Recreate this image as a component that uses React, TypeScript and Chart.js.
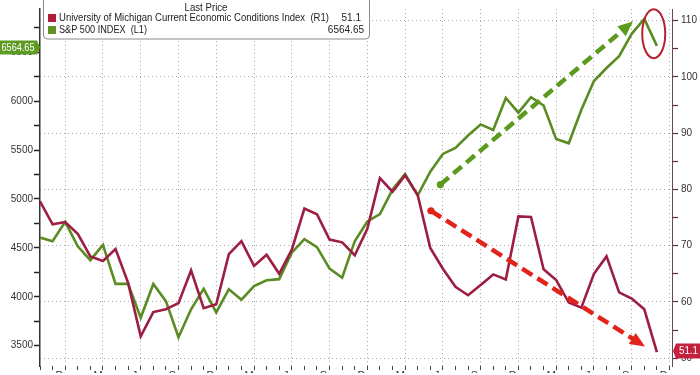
import React, { useEffect, useRef } from 'react';
import { Chart, registerables } from 'chart.js';

Chart.register(...registerables);

// Monthly categories, Oct 2021 .. Dec 2025
const MONTHS = [
  'Oct', 'Nov', 'Dec',
  'Jan', 'Feb', 'Mar', 'Apr', 'May', 'Jun', 'Jul', 'Aug', 'Sep', 'Oct', 'Nov', 'Dec',
  'Jan', 'Feb', 'Mar', 'Apr', 'May', 'Jun', 'Jul', 'Aug', 'Sep', 'Oct', 'Nov', 'Dec',
  'Jan', 'Feb', 'Mar', 'Apr', 'May', 'Jun', 'Jul', 'Aug', 'Sep', 'Oct', 'Nov', 'Dec',
  'Jan', 'Feb', 'Mar', 'Apr', 'May', 'Jun', 'Jul', 'Aug', 'Sep', 'Oct', 'Nov', 'Dec',
];

// University of Michigan Current Economic Conditions Index (right axis)
const UMICH = [
  77.9, 73.8, 74.2,
  72.1, 68.1, 67.3, 69.4, 63.4, 53.9, 58.2, 58.7, 59.8, 65.6, 58.9, 59.6,
  68.5, 70.8, 66.4, 68.4, 65.0, 69.3, 76.6, 75.6, 71.1, 70.6, 68.3, 73.0,
  82.0, 79.6, 82.5, 79.0, 69.6, 65.9, 62.7, 61.2, 63.0, 64.9, 64.0, 75.2,
  75.1, 65.8, 63.9, 59.9, 59.0, 65.0, 68.1, 61.7, 60.6, 58.7, 51.1,
];

// S&P 500 Index (left axis)
const SPX = [
  4605, 4567, 4766,
  4516, 4374, 4530, 4132, 4132, 3785, 4130, 3955, 3586, 3872, 4080, 3840,
  4077, 3970, 4109, 4169, 4180, 4450, 4589, 4508, 4288, 4194, 4568, 4770,
  4846, 5096, 5254, 5036, 5278, 5460, 5522, 5648, 5762, 5705, 6032, 5882,
  6041, 5955, 5612, 5569, 5912, 6205, 6339, 6460, 6688, 6840, 6564.65,
];

const LEFT_TICKS = [3500, 3750, 4000, 4250, 4500, 4750, 5000, 5250, 5500, 5750, 6000, 6250, 6500, 6750];
const RIGHT_TICKS = [50, 55, 60, 65, 70, 75, 80, 85, 90, 95, 100, 105, 110];

const UMICH_LABEL = 'University of Michigan Current Economic Conditions Index  (R1)';
const SPX_LABEL = 'S&P 500 INDEX  (L1)';
const UMICH_LAST = '51.1';
const SPX_LAST = '6564.65';

// Annotation arrows in data units: [month index, axis value]
const GREEN_ARROW = { from: [31.8, 5147], to: [47.1, 6813] };
const RED_ARROW = { from: [31.05, 76.2], to: [48.05, 52.1] };
const ELLIPSE_CENTER = [48.75, 6690];

const FONT = '"Liberation Sans", Arial, sans-serif';
const RED = '#9c1e42';
const GREEN = '#5a8c23';
const GRID = '#a8a8a8';
const CLEAR = 'rgba(0,0,0,0)';

function drawArrow(ctx: CanvasRenderingContext2D, x0: number, y0: number, x1: number, y1: number, color: string, dash: number[]) {
  const dx = x1 - x0;
  const dy = y1 - y0;
  const len = Math.hypot(dx, dy);
  const ux = dx / len;
  const uy = dy / len;
  const headLen = 15;
  const headW = 13;
  const bx = x1 - ux * headLen;
  const by = y1 - uy * headLen;
  ctx.save();
  ctx.strokeStyle = color;
  ctx.fillStyle = color;
  ctx.lineWidth = 4.5;
  ctx.setLineDash(dash);
  ctx.beginPath();
  ctx.moveTo(x0, y0);
  ctx.lineTo(bx + ux * 2, by + uy * 2);
  ctx.stroke();
  ctx.setLineDash([]);
  ctx.beginPath();
  ctx.arc(x0, y0, 3.6, 0, Math.PI * 2);
  ctx.fill();
  ctx.beginPath();
  ctx.moveTo(x1, y1);
  ctx.lineTo(bx - uy * headW / 2, by + ux * headW / 2);
  ctx.lineTo(bx + uy * headW / 2, by - ux * headW / 2);
  ctx.closePath();
  ctx.fill();
  ctx.restore();
}

const annotationPlugin = {
  id: 'annotations',
  afterDatasetsDraw(chart: any) {
    const ctx: CanvasRenderingContext2D = chart.ctx;
    const xs = chart.scales.x;
    const yL = chart.scales.yL;
    const yR = chart.scales.yR;
    drawArrow(
      ctx,
      xs.getPixelForValue(GREEN_ARROW.from[0]), yL.getPixelForValue(GREEN_ARROW.from[1]),
      xs.getPixelForValue(GREEN_ARROW.to[0]), yL.getPixelForValue(GREEN_ARROW.to[1]),
      '#5c9a1e', [11, 6]
    );
    drawArrow(
      ctx,
      xs.getPixelForValue(RED_ARROW.from[0]), yR.getPixelForValue(RED_ARROW.from[1]),
      xs.getPixelForValue(RED_ARROW.to[0]), yR.getPixelForValue(RED_ARROW.to[1]),
      '#e2231a', [12, 6]
    );
    const cx = xs.getPixelForValue(ELLIPSE_CENTER[0]);
    const cy = yL.getPixelForValue(ELLIPSE_CENTER[1]);
    ctx.save();
    ctx.strokeStyle = '#b5222d';
    ctx.lineWidth = 2;
    ctx.beginPath();
    ctx.ellipse(cx, cy, 11.5, 24.5, 0, 0, Math.PI * 2);
    ctx.stroke();
    ctx.restore();
  },
};

const overlayPlugin = {
  id: 'overlay',
  afterDraw(chart: any) {
    const ctx: CanvasRenderingContext2D = chart.ctx;
    const yL = chart.scales.yL;
    const yR = chart.scales.yR;
    const area = chart.chartArea;
    ctx.save();

    // Legend box
    ctx.fillStyle = '#ffffff';
    ctx.strokeStyle = '#8a8a8a';
    ctx.lineWidth = 1;
    ctx.beginPath();
    (ctx as any).roundRect(43.5, -4.5, 326, 43.5, 4);
    ctx.fill();
    ctx.stroke();

    ctx.font = `10px ${FONT}`;
    ctx.fillStyle = '#222';
    ctx.textBaseline = 'middle';
    ctx.textAlign = 'center';
    ctx.fillText('Last Price', 206, 8, 43);

    ctx.fillStyle = '#b01c3a';
    ctx.fillRect(48, 14, 8, 8);
    ctx.fillStyle = '#5f9224';
    ctx.fillRect(48, 26, 8, 8);

    ctx.fillStyle = '#222';
    ctx.textAlign = 'left';
    ctx.fillText(UMICH_LABEL, 59, 18.5, 270);
    ctx.fillText(SPX_LABEL, 59, 30.5, 88);
    ctx.textAlign = 'right';
    ctx.fillText(UMICH_LAST, 361, 18.5);
    ctx.fillText(SPX_LAST, 364, 30.5);

    // Last value tag on the left axis (S&P)
    const gy = yL.getPixelForValue(SPX[SPX.length - 1]) + 1.5;
    ctx.fillStyle = '#5e9b22';
    ctx.beginPath();
    ctx.moveTo(0, gy - 7);
    ctx.lineTo(area.left - 3, gy - 7);
    ctx.lineTo(area.left, gy);
    ctx.lineTo(area.left - 3, gy + 7);
    ctx.lineTo(0, gy + 7);
    ctx.closePath();
    ctx.fill();
    ctx.fillStyle = '#ffffff';
    ctx.textAlign = 'center';
    ctx.fillText(SPX_LAST, 18, gy + 0.5, 33);

    // Last value tag on the right axis (UMich)
    const ry = yR.getPixelForValue(UMICH[UMICH.length - 1]) - 1;
    ctx.fillStyle = '#c4213f';
    ctx.beginPath();
    ctx.moveTo(area.right + 1, ry);
    ctx.lineTo(area.right + 4, ry - 7.5);
    ctx.lineTo(700, ry - 7.5);
    ctx.lineTo(700, ry + 7.5);
    ctx.lineTo(area.right + 4, ry + 7.5);
    ctx.closePath();
    ctx.fill();
    ctx.fillStyle = '#ffffff';
    ctx.fillText(UMICH_LAST, 688.5, ry + 0.5, 19);

    ctx.restore();
  },
};

export default function App() {
  const ref = useRef<HTMLCanvasElement>(null);

  useEffect(() => {
    const canvas = ref.current;
    if (!canvas) return;
    const chart = new Chart(canvas, {
      type: 'line',
      data: {
        datasets: [
          {
            label: UMICH_LABEL,
            data: UMICH.map((v, i) => ({ x: i, y: v })),
            yAxisID: 'yR',
            borderColor: RED,
            borderWidth: 2.6,
            pointRadius: 0,
            tension: 0,
            fill: false,
          },
          {
            label: SPX_LABEL,
            data: SPX.map((v, i) => ({ x: i, y: v })),
            yAxisID: 'yL',
            borderColor: GREEN,
            borderWidth: 2.6,
            pointRadius: 0,
            tension: 0,
            fill: false,
          },
        ],
      },
      options: {
        responsive: false,
        maintainAspectRatio: false,
        animation: false,
        events: [],
        layout: { padding: 0 },
        plugins: {
          legend: { display: false },
          tooltip: { enabled: false },
        },
        scales: {
          x: {
            type: 'linear',
            position: 'bottom',
            min: 0,
            max: 50.2,
            afterBuildTicks: (s: any) => {
              s.ticks = MONTHS.map((_, i) => ({ value: i }));
            },
            afterFit: (s: any) => {
              s.height = 7;
            },
            ticks: {
              autoSkip: false,
              maxRotation: 0,
              padding: -1,
              color: '#333',
              font: { size: 11, family: FONT },
              callback: (v: any) => (v % 3 === 2 ? MONTHS[v] : ''),
            },
            grid: {
              color: (c: any) => (c.tick && c.tick.value % 3 === 2 ? GRID : CLEAR),
              lineWidth: 1,
              drawTicks: true,
              tickLength: 4,
              tickColor: '#444',
              tickWidth: 1,
            },
            border: { display: false, dash: [1, 3] },
          },
          yL: {
            type: 'linear',
            position: 'left',
            min: 3292,
            max: 6942,
            afterBuildTicks: (s: any) => {
              s.ticks = LEFT_TICKS.map((v) => ({ value: v }));
            },
            afterFit: (s: any) => {
              s.width = 40;
            },
            ticks: {
              padding: 1,
              color: '#333',
              font: { size: 10, family: FONT },
              callback: (v: any) => (v % 500 === 0 ? String(v) : ''),
            },
            grid: {
              drawOnChartArea: false,
              drawTicks: true,
              tickLength: 6,
              tickColor: '#222',
              tickWidth: 1.5,
            },
            border: { display: true, color: '#333', width: 1.5 },
          },
          yR: {
            type: 'linear',
            position: 'right',
            min: 48.62,
            max: 112.07,
            afterBuildTicks: (s: any) => {
              s.ticks = RIGHT_TICKS.map((v) => ({ value: v }));
            },
            afterFit: (s: any) => {
              s.width = 28;
            },
            ticks: {
              padding: 3,
              color: '#333',
              font: { size: 10, family: FONT },
              callback: (v: any) => (v % 10 === 0 ? String(v) : ''),
            },
            grid: {
              color: (c: any) => (c.tick && c.tick.value % 10 === 0 ? GRID : CLEAR),
              lineWidth: 1,
              drawTicks: true,
              tickLength: 6,
              tickColor: '#5a2a35',
              tickWidth: 1.2,
            },
            border: { display: true, color: '#6a4a52', width: 1, dash: [1, 3] },
          },
        },
      },
      plugins: [annotationPlugin, overlayPlugin],
    } as any);
    return () => chart.destroy();
  }, []);

  return (
    <div style={{ position: 'fixed', left: 0, top: 0, width: 700, height: 375, background: '#fff' }}>
      <canvas ref={ref} width={700} height={375} style={{ display: 'block' }} />
    </div>
  );
}
